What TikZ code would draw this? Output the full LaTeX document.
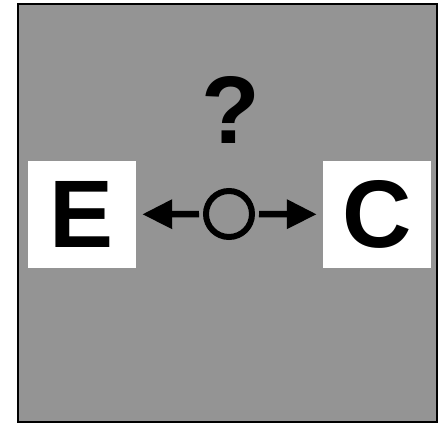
\documentclass[tikz,border=0pt]{standalone}
\usepackage{fontspec}
\setmainfont{Liberation Sans}
\usetikzlibrary{arrows.meta}
\definecolor{panelgray}{RGB}{148,148,148}
\tikzset{
  letterbox/.style={fill=white, draw=none, minimum width=108pt, minimum height=107pt,
    inner sep=0pt, font=\fontsize{96}{96}\selectfont\bfseries},
  ring/.style={circle, draw=black, line width=6pt, minimum size=46pt, inner sep=0pt},
  arr/.style={line width=6.5pt, -{Triangle[length=30pt, width=28pt]}, shorten <=4pt}
}
\begin{document}
\begin{tikzpicture}[x=1pt, y=-1pt]
  \useasboundingbox (0,0) rectangle (439,424);
  % panel
  \draw[fill=panelgray, draw=black, line width=2pt] (18,4) rectangle (437,422);
  % letter boxes
  \node[letterbox] (E) at (82,214.5) {E};
  \node[letterbox] (C) at (377,214.5) {C};
  % question mark
  \node[font=\fontsize{96}{96}\selectfont\bfseries, inner sep=0pt, anchor=base] (q) at (230.5,143) {?};
  % central ring
  \node[ring] (o) at (229,214) {};
  % arrows
  \draw[arr, shorten >=6pt] (o) -- (E);
  \draw[arr, shorten >=6pt] (o) -- (C);
\end{tikzpicture}
\end{document}
